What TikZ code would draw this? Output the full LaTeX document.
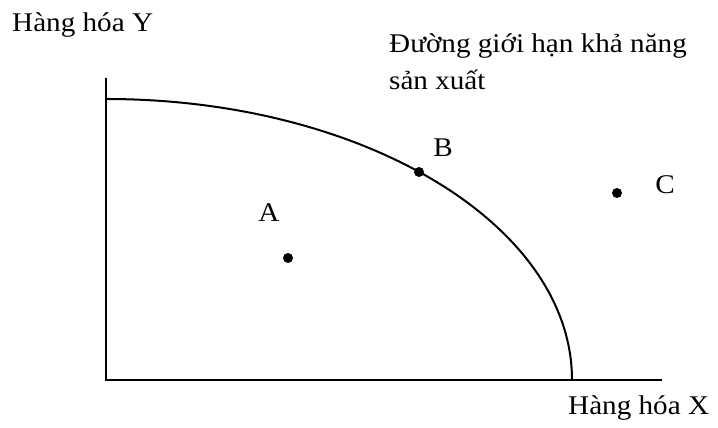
\documentclass[tikz,border=0pt]{standalone}
\usepackage{fontspec}
\setmainfont{Liberation Serif}[FakeStretch=1.08]
\usetikzlibrary{positioning}
\tikzset{
  axis/.style={line width=2pt},
  ppf/.style={line width=2pt},
  pt/.style={circle, fill=black, inner sep=0pt, minimum size=10pt},
  lbl/.style={font=\fontsize{27}{37}\selectfont, inner sep=0pt},
}
\begin{document}
\begin{tikzpicture}[x=1pt, y=1pt]
  \useasboundingbox (0,0) rectangle (718,428);
  % axes
  \coordinate (O) at (106,48);
  \coordinate (ytop) at (106,350);
  \coordinate (xend) at (662,48);
  \draw[axis] (ytop) -- (O) -- (xend);
  % frontier (quarter ellipse)
  \coordinate (ppftop) at (106,329);
  \draw[ppf] (ppftop) arc[start angle=90, end angle=0, x radius=466pt, y radius=281pt];
  % points
  \node[pt] (A) at (288,170) {};
  \node[pt] (B) at (419,256) {};
  \node[pt] (C) at (617,235) {};
  \node[lbl, anchor=base] (lA) at (269,206) {A};
  \node[lbl, anchor=base] (lB) at (443,271) {B};
  \node[lbl, anchor=base] (lC) at (665,234) {C};
  % axis titles
  \node[lbl, anchor=base west] (ylab) at (12,396) {Hàng hóa Y};
  \node[lbl, anchor=base west] (xlab) at (568,13) {Hàng hóa X};
  \node[lbl, anchor=base west, align=left] (ppflab) at (389,338) {Đường giới hạn khả năng\\sản xuất};
\end{tikzpicture}
\end{document}
